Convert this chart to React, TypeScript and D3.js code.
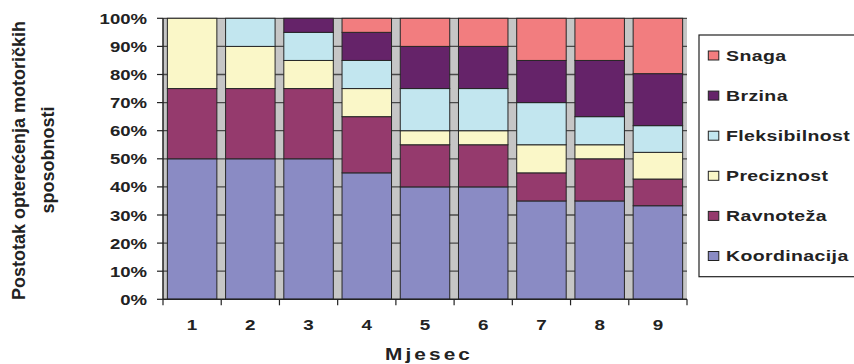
import React from "react";
import * as d3 from "d3";

const categories = ["1", "2", "3", "4", "5", "6", "7", "8", "9"];
const seriesNames = ["Koordinacija", "Ravnoteža", "Preciznost", "Fleksibilnost", "Brzina", "Snaga"];
const koordinacija = [50, 50, 50, 45, 40, 40, 35, 35, 33.3];
const ravnoteza = [25, 25, 25, 20, 15, 15, 10, 15, 9.5];
const preciznost = [25, 15, 10, 10, 5, 5, 10, 5, 9.5];
const fleksibilnost = [0, 10, 10, 10, 15, 15, 15, 10, 9.5];
const brzina = [0, 0, 5, 10, 15, 15, 15, 20, 18.5];
const snaga = [0, 0, 0, 5, 10, 10, 15, 15, 19.7];
const yTicks = [0, 0.1, 0.2, 0.3, 0.4, 0.5, 0.6, 0.7, 0.8, 0.9, 1];
const colors = ["#8a8bc4", "#953a6d", "#faf7c8", "#c2e6ef", "#652369", "#f27d7f"];

const FONT = "'Liberation Sans', Arial, sans-serif";
const TXT = "#222";

export default function App() {
  const allSeries = [koordinacija, ravnoteza, preciznost, fleksibilnost, brzina, snaga];
  const rows = categories.map((c, i) => {
    const r: any = { cat: c };
    seriesNames.forEach((s, k) => (r[s] = allSeries[k][i]));
    return r;
  });
  const stack = d3.stack().keys(seriesNames).offset(d3.stackOffsetExpand);
  const layers = stack(rows as any);

  const left = 163, right = 687, top = 18.3, bottom = 299.3;
  const x = d3.scaleBand().domain(categories).range([left, right]).paddingInner(0.15).paddingOuter(0.075);
  const y = d3.scaleLinear().domain([0, 1]).range([bottom, top]);
  const step = x.step();
  const fmt = d3.format(".0%");

  const legendOrder = [...seriesNames].reverse();

  return (
    <svg width={854} height={364} style={{ position: "absolute", left: 0, top: 0, background: "#fff" }}>
      <rect x={left} y={top} width={right - left} height={bottom - top} fill="#c6c6c6" />
      {yTicks.filter((t) => t > 0).map((t) => (
        <line key={"g" + t} x1={left} x2={right} y1={y(t)} y2={y(t)} stroke="#4a4a4a" strokeWidth={1.3} />
      ))}
      {layers.map((layer, k) => (
        <g key={layer.key} fill={colors[k]}>
          {layer.map((d, i) =>
            d[1] - d[0] > 1e-6 ? (
              <rect
                key={i}
                x={x(categories[i])}
                y={y(d[1])}
                width={x.bandwidth()}
                height={y(d[0]) - y(d[1])}
                stroke="#262626"
                strokeWidth={1}
              />
            ) : null
          )}
        </g>
      ))}
      {/* axes */}
      <line x1={left} x2={left} y1={top} y2={bottom} stroke="#222" strokeWidth={1.5} />
      <line x1={left} x2={right} y1={bottom} y2={bottom} stroke="#222" strokeWidth={1.5} />
      {yTicks.map((t) => (
        <g key={"yt" + t}>
          <line x1={left - 6} x2={left} y1={y(t)} y2={y(t)} stroke="#222" strokeWidth={1.2} />
          <text
            transform={`translate(147,${y(t) + 5.5}) scale(1.28,1)`}
            textAnchor="end"
            fontFamily={FONT}
            fontWeight="bold"
            fontSize={14.5}
            fill={TXT}
          >
            {fmt(t)}
          </text>
        </g>
      ))}
      {d3.range(categories.length + 1).map((i) => (
        <line
          key={"xt" + i}
          x1={left + i * step}
          x2={left + i * step}
          y1={bottom}
          y2={bottom + 6}
          stroke="#222"
          strokeWidth={1.2}
        />
      ))}
      {categories.map((c) => (
        <text
          key={"xl" + c}
          transform={`translate(${(x(c) as number) + x.bandwidth() / 2},330) scale(1.3,1)`}
          textAnchor="middle"
          fontFamily={FONT}
          fontWeight="bold"
          fontSize={14.5}
          fill={TXT}
        >
          {c}
        </text>
      ))}
      <text
        transform="translate(429,360) scale(1.3,1)"
        textAnchor="middle"
        fontFamily={FONT}
        fontWeight="bold"
        fontSize={16}
        letterSpacing={2.4}
        fill={TXT}
      >
        Mjesec
      </text>
      <text
        transform="translate(25,160.5) rotate(-90)"
        textAnchor="middle"
        fontFamily={FONT}
        fontWeight="bold"
        fontSize={18}
        fill={TXT}
      >
        Postotak opterećenja motoričkih
      </text>
      <text
        transform="translate(54,160) rotate(-90)"
        textAnchor="middle"
        fontFamily={FONT}
        fontWeight="bold"
        fontSize={18}
        fill={TXT}
      >
        sposobnosti
      </text>
      {/* legend */}
      <rect x={699} y={35} width={170} height={241.7} fill="#fff" stroke="#222" strokeWidth={1.2} />
      {legendOrder.map((s, i) => {
        const cy = 55.5 + i * 40.1;
        const k = seriesNames.indexOf(s);
        return (
          <g key={"lg" + s}>
            <rect x={708.3} y={cy - 4.5} width={10.5} height={9} fill={colors[k]} stroke="#222" strokeWidth={1} />
            <text
              transform={`translate(726,${cy + 5.3}) scale(1.3,1)`}
              fontFamily={FONT}
              fontWeight="bold"
              fontSize={15}
              letterSpacing={0.3}
              fill={TXT}
            >
              {s}
            </text>
          </g>
        );
      })}
    </svg>
  );
}
